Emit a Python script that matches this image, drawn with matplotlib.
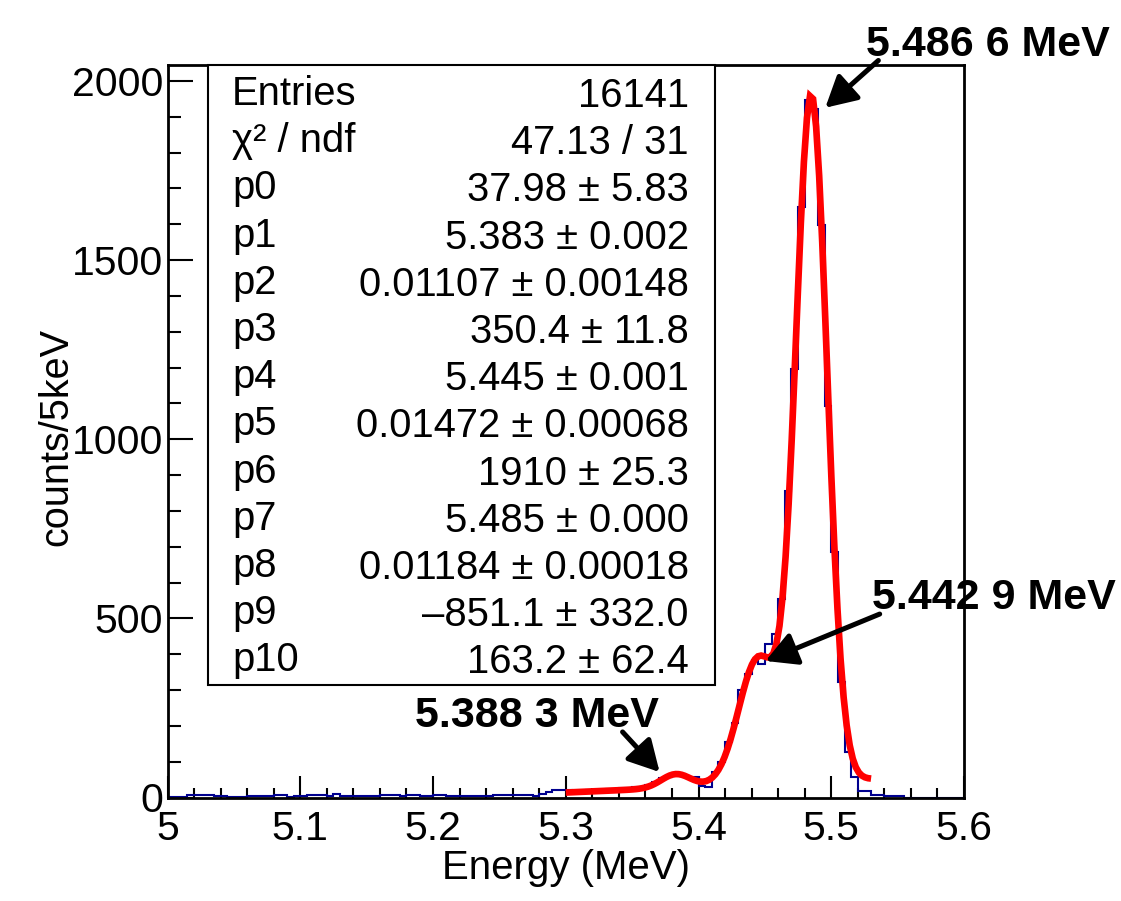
import numpy as np
import matplotlib
matplotlib.use("Agg")
import matplotlib.pyplot as plt
from matplotlib.patches import Rectangle
from matplotlib.ticker import MultipleLocator, FixedLocator, FixedFormatter

plt.rcParams['font.family'] = ['Liberation Sans', 'DejaVu Sans']

# ---- histogram: counts per 5 keV bin, 5.000 - 5.600 MeV ----
bin_low = 5.0
bin_width = 0.005
counts = [
    2, 2, 2, 6, 6, 6, 6, 4, 4, 2,
    2, 2, 3, 5, 4, 4, 6, 6, 2, 3,
    3, 6, 6, 6, 5, 9, 5, 5, 4, 4,
    5, 5, 6, 6, 6, 3, 6, 6, 5, 5,
    6, 6, 4, 4, 3, 3, 3, 3, 5, 6,
    6, 6, 8, 8, 8, 4, 11, 15, 20, 22,
    22, 19, 19, 20, 20, 22, 23, 24, 26, 26,
    28, 30, 35, 42, 55, 56, 66, 65, 58, 57,
    32, 30, 72, 100, 156, 207, 300, 345, 385, 372,
    428, 455, 555, 856, 1195, 1649, 1947, 1922, 1598, 1092,
    685, 323, 128, 56, 19, 19, 8, 8, 5, 5,
    5, 0, 0, 0, 0, 0, 0, 0, 0, 0,
]

# ---- fit: three gaussians + linear background ----
fit_par = [37.98, 5.383, 0.01107,
           350.4, 5.445, 0.01472,
           1910.0, 5.485, 0.01184,
           -851.1, 163.2]
fit_range = (5.30, 5.53)
fit_npx = 100

# ---- statistics box ----
stat_names = ["Entries", "χ² / ndf", "p0", "p1", "p2", "p3", "p4",
              "p5", "p6", "p7", "p8", "p9", "p10"]
stat_values = ["16141", "47.13 / 31", "37.98 ± 5.83", "5.383 ± 0.002",
               "0.01107 ± 0.00148", "350.4 ± 11.8", "5.445 ± 0.001",
               "0.01472 ± 0.00068", "1910 ± 25.3", "5.485 ± 0.000",
               "0.01184 ± 0.00018", "–851.1 ± 332.0", "163.2 ± 62.4"]

# ---- peak labels ----
peak_labels = ["5.486 6 MeV", "5.442 9 MeV", "5.388 3 MeV"]

x_ticks = [5.0, 5.1, 5.2, 5.3, 5.4, 5.5, 5.6]
x_tick_labels = ["5", "5.1", "5.2", "5.3", "5.4", "5.5", "5.6"]
y_ticks = [0, 500, 1000, 1500, 2000]
y_tick_labels = ["0", "500", "1000", "1500", "2000"]


def fit_func(x, p):
    g = 0.0
    for k in range(3):
        a, m, s = p[3 * k:3 * k + 3]
        g = g + a * np.exp(-0.5 * ((x - m) / s) ** 2)
    return g + p[9] + p[10] * x


W, H = 1121, 901
fig = plt.figure(figsize=(W / 100, H / 100), dpi=100)
fig.patch.set_facecolor("white")


def fpx(x, y):
    """pixel position (from top-left) -> figure fraction"""
    return x / W, 1 - y / H


ax_l, ax_r, ax_t, ax_b = 167.5, 964.0, 65.0, 797.5
ax = fig.add_axes([ax_l / W, 1 - ax_b / H, (ax_r - ax_l) / W, (ax_b - ax_t) / H])

edges = bin_low + bin_width * np.arange(len(counts) + 1)
ax.stairs(counts, edges, color="#00008f", lw=1.5, baseline=None, zorder=2)

xf = np.linspace(fit_range[0], fit_range[1], fit_npx + 1)
ax.plot(xf, fit_func(xf, fit_par), color="#ff0000", lw=4.8, zorder=3,
        solid_joinstyle="miter", solid_capstyle="butt")

ax.set_xlim(5.0, 5.6)
ax.set_ylim(0, 1.05 * max(counts))

ax.xaxis.set_major_locator(FixedLocator(x_ticks))
ax.xaxis.set_major_formatter(FixedFormatter(x_tick_labels))
ax.xaxis.set_minor_locator(MultipleLocator(0.02))
ax.yaxis.set_major_locator(FixedLocator(y_ticks))
ax.yaxis.set_major_formatter(FixedFormatter(y_tick_labels))
ax.yaxis.set_minor_locator(MultipleLocator(100))

ax.tick_params(axis="both", which="both", direction="in", top=False,
               right=False, width=1.5, colors="black", labelsize=29.5)
ax.tick_params(axis="x", which="major", length=15.6, pad=9)
ax.tick_params(axis="x", which="minor", length=7)
ax.tick_params(axis="y", which="major", length=18, pad=3)
ax.tick_params(axis="y", which="minor", length=9)
for sp in ax.spines.values():
    sp.set_linewidth(2.0)
    sp.set_color("black")

# axis titles
fig.text(*fpx(566, 879), "Energy (MeV)", fontsize=29, ha="center", va="baseline")
fig.text(*fpx(56, 437), "counts/5keV", fontsize=28.5, ha="center", va="center",
         rotation=90)

# statistics box
bx0, bx1, by0, by1 = 208, 715, 65, 685
x0f, y0f = fpx(bx0, by1)
box = Rectangle((x0f, y0f), (bx1 - bx0) / W, (by1 - by0) / H,
                transform=fig.transFigure, facecolor="white",
                edgecolor="black", lw=1.5, zorder=5)
fig.add_artist(box)
row_step = 47.2
for k, (nm, val) in enumerate(zip(stat_names, stat_values)):
    fig.text(*fpx(232, 105 + row_step * k), nm, fontsize=28.8,
             ha="left", va="baseline", zorder=6)
    fig.text(*fpx(689, 107 + row_step * k), val, fontsize=28.8,
             ha="right", va="baseline", zorder=6)

# peak annotations
arrow_kw = dict(arrowstyle="-|>,head_length=0.55,head_width=0.3",
                color="black", lw=3.6, mutation_scale=34,
                shrinkA=0, shrinkB=0)

ax.annotate("", xy=(5.4955, 1925), xytext=(5.5355, 2057), xycoords="data",
            textcoords="data", arrowprops=arrow_kw, annotation_clip=False,
            zorder=7)
fig.text(*fpx(866, 56), peak_labels[0], fontsize=31, fontweight="bold",
         ha="left", va="baseline")

ax.annotate("", xy=(5.4505, 381), xytext=(5.5365, 512), xycoords="data",
            textcoords="data", arrowprops=arrow_kw, annotation_clip=False,
            zorder=7)
fig.text(*fpx(872, 609), peak_labels[1], fontsize=31, fontweight="bold",
         ha="left", va="baseline")

ax.annotate("", xy=(5.3707, 71), xytext=(5.3428, 183), xycoords="data",
            textcoords="data", arrowprops=arrow_kw, annotation_clip=False,
            zorder=7)
fig.text(*fpx(415, 727), peak_labels[2], fontsize=31, fontweight="bold",
         ha="left", va="baseline")

fig.savefig("out.png", dpi=100)
